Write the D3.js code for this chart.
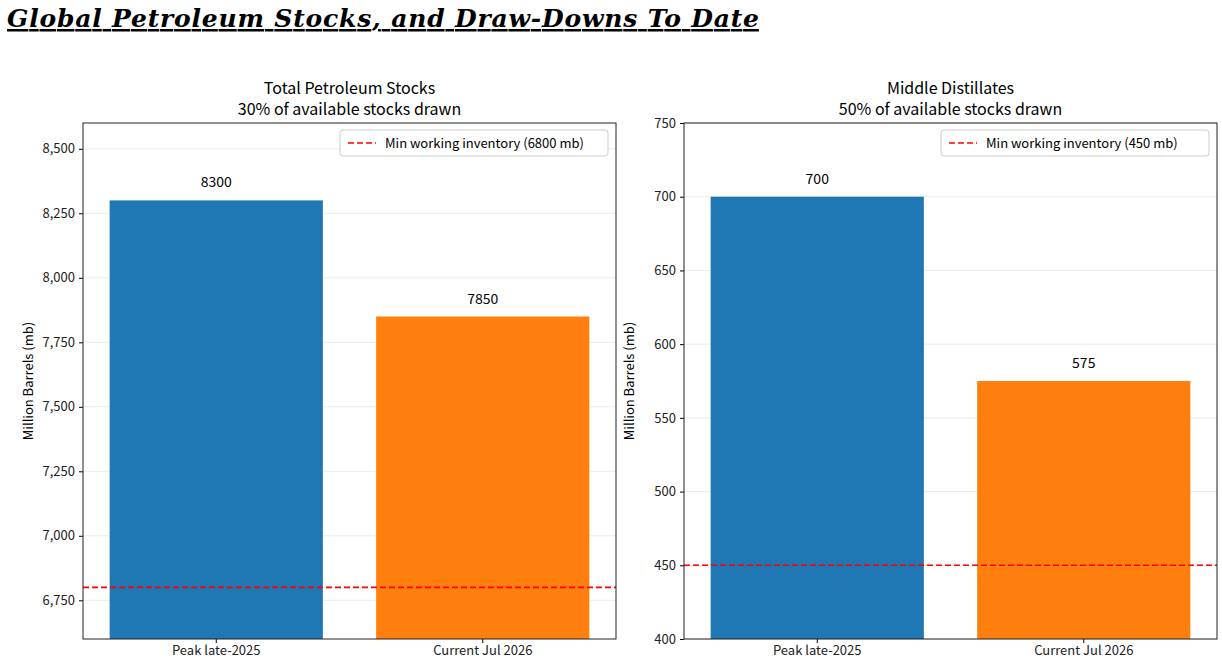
<!DOCTYPE html>
<html><head><meta charset="utf-8">
<script src="https://cdn.jsdelivr.net/npm/d3@7/dist/d3.min.js"></script>
<style>body{margin:0;background:#fff}text{font-family:"Noto Sans CJK SC","Noto Sans",sans-serif}</style>
</head><body>
<svg id="c" width="1222" height="672"></svg>
<script>
const categories = ["Peak late-2025", "Current Jul 2026"];
const totalValues = [8300, 7850];
const distValues = [700, 575];
const colors = ["#1f77b4", "#ff7f0e"];
const totalTicks = [6750, 7000, 7250, 7500, 7750, 8000, 8250, 8500];
const distTicks = [400, 450, 500, 550, 600, 650, 700, 750];
const panels = [
  {x0: 83, title: ["Total Petroleum Stocks", "30% of available stocks drawn"], values: totalValues, domain: [6600, 8600], ticks: totalTicks, minInv: 6800, legend: "Min working inventory (6800 mb)"},
  {x0: 684, title: ["Middle Distillates", "50% of available stocks drawn"], values: distValues, domain: [400, 750], ticks: distTicks, minInv: 450, legend: "Min working inventory (450 mb)"}
];
const svg = d3.select("#c");
svg.append("text").attr("x", 7).attr("y", 27)
  .style("font-family", "'DejaVu Serif',serif").attr("font-weight", "bold").attr("font-style", "italic")
  .attr("font-size", 25).attr("text-decoration", "underline").attr("textLength", 752)
  .text("Global Petroleum Stocks, and Draw-Downs To Date");
const plotTop = 123, plotBottom = 639, W = 533;
panels.forEach(p => {
  const g = svg.append("g").attr("transform", `translate(${p.x0},0)`);
  const x = d3.scaleBand().domain(categories).range([0, W]).paddingInner(0.2).paddingOuter(0.1);
  const y = d3.scaleLinear().domain(p.domain).range([plotBottom, plotTop]);
  g.selectAll(".grid").data(p.ticks).join("line").attr("x1", 0).attr("x2", W)
    .attr("y1", d => y(d)).attr("y2", d => y(d)).attr("stroke", "#e6e6e6").attr("stroke-width", 0.8);
  g.selectAll(".bar").data(p.values).join("rect").attr("x", (d, i) => x(categories[i]))
    .attr("width", x.bandwidth()).attr("y", d => y(d)).attr("height", d => plotBottom - y(d))
    .attr("fill", (d, i) => colors[i]);
  g.selectAll(".lbl").data(p.values).join("text").attr("x", (d, i) => x(categories[i]) + x.bandwidth() / 2)
    .attr("y", d => y(d) - 13).attr("text-anchor", "middle").attr("font-size", 14).text(d => d);
  g.append("line").attr("x1", 0).attr("x2", W).attr("y1", y(p.minInv)).attr("y2", y(p.minInv))
    .attr("stroke", "red").attr("stroke-width", 1.6).attr("stroke-dasharray", "6,3");
  const ya = g.append("g").call(d3.axisLeft(y).tickValues(p.ticks).tickSize(4).tickPadding(4));
  ya.selectAll("text").attr("font-size", 13).attr("fill", "#222");
  ya.select(".domain").remove();
  const xa = g.append("g").attr("transform", `translate(0,${plotBottom})`).call(d3.axisBottom(x).tickSize(4).tickPadding(3));
  xa.selectAll("text").attr("font-size", 13).attr("fill", "#222");
  xa.select(".domain").remove();
  g.append("rect").attr("x", 0).attr("y", plotTop).attr("width", W).attr("height", plotBottom - plotTop)
    .attr("fill", "none").attr("stroke", "#222").attr("stroke-width", 1);
  g.append("text").attr("transform", `translate(-50,${(plotTop + plotBottom) / 2}) rotate(-90)`)
    .attr("text-anchor", "middle").attr("font-size", 13).text("Million Barrels (mb)");
  p.title.forEach((t, i) => g.append("text").attr("x", W / 2).attr("y", 94 + i * 21)
    .attr("text-anchor", "middle").attr("font-size", 16).text(t));
  const lg = g.append("g");
  lg.append("rect").attr("x", W - 276).attr("y", 130).attr("width", 268).attr("height", 26).attr("rx", 3)
    .attr("fill", "#fff").attr("stroke", "#ccc");
  lg.append("line").attr("x1", W - 268).attr("x2", W - 240).attr("y1", 143).attr("y2", 143)
    .attr("stroke", "red").attr("stroke-width", 1.6).attr("stroke-dasharray", "6,3");
  lg.append("text").attr("x", W - 231).attr("y", 148).attr("font-size", 13).text(p.legend);
});
</script></body></html>
